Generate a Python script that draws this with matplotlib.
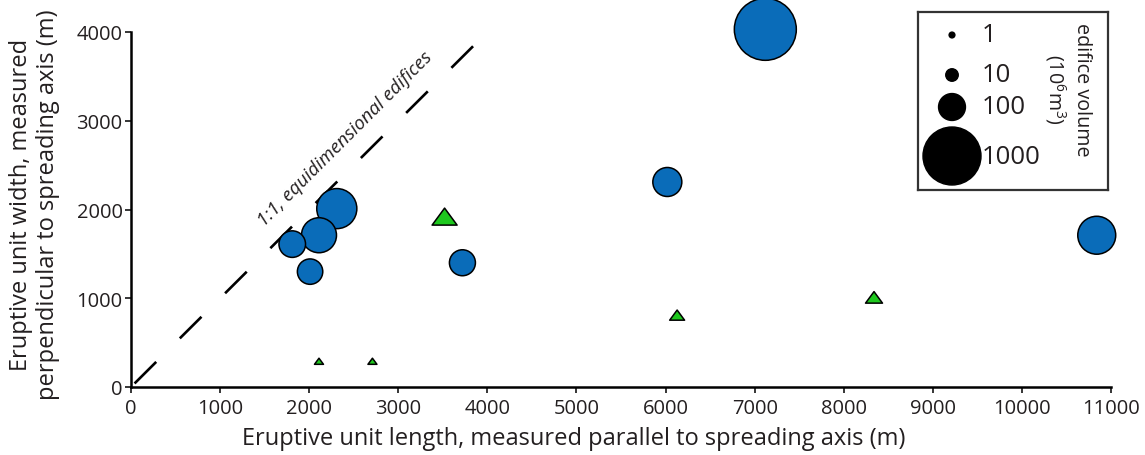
import matplotlib.pyplot as plt
import numpy as np
from matplotlib.path import Path

plt.rcParams['font.family'] = ['Open Sans', 'DejaVu Sans']
plt.rcParams['mathtext.fontset'] = 'custom'
plt.rcParams['mathtext.rm'] = 'Open Sans'
plt.rcParams['lines.scale_dashes'] = False

# circles: edifices (length, width in m; volume in 10^6 m^3)
circ_length = [7120, 10840, 6020, 2310, 2110, 1810, 2010, 3720]
circ_width = [4030, 1710, 2310, 2010, 1710, 1610, 1300, 1400]
circ_volume = [1220, 280, 125, 330, 220, 96, 84, 90]

# triangles
tri_length = [3520, 6130, 8340, 2110, 2710]
tri_width = [1920, 810, 1010, 290, 290]
tri_volume = [80, 17, 25, 3.7, 3.7]

legend_volume = [1, 10, 100, 1000]
legend_labels = ['1', '10', '100', '1000']

x_ticks = np.arange(0, 11001, 1000)
y_ticks = np.arange(0, 4001, 1000)

DPI = 100
ink = '#231f20'
blue = '#0a6cb9'
green = '#1ec81e'


def marker_area(vol):
    # radius in pixels grows with the cube root of volume
    diam_px = 2 * 2.9 * np.cbrt(np.asarray(vol, dtype=float))
    return (diam_px * 72 / DPI) ** 2


tri_marker = Path([(-1, -0.68), (1, -0.68), (0, 0.68), (-1, -0.68)],
                  [Path.MOVETO, Path.LINETO, Path.LINETO, Path.CLOSEPOLY])

fig = plt.figure(figsize=(11.45, 4.56), dpi=DPI)
ax = fig.add_axes([131 / 1145, 68 / 456, 980 / 1145, 355 / 456])

ax.plot([40, 3870], [40, 3870], color='black', lw=1.9,
        dashes=(22, 24), solid_capstyle='butt', zorder=1)
ax.text(2400, 2800, '1:1, equidimensional edifices', rotation=45,
        ha='center', va='center', fontsize=13.5, style='italic', color=ink)

ax.scatter(tri_length, tri_width, s=marker_area(tri_volume), marker=tri_marker,
           facecolor=green, edgecolor='black', linewidth=1.1, zorder=3, clip_on=False)
ax.scatter(circ_length, circ_width, s=marker_area(circ_volume), marker='o',
           facecolor=blue, edgecolor='black', linewidth=1.1, zorder=4, clip_on=False)

ax.set_xlim(0, 11000)
ax.set_ylim(0, 4000)
ax.set_xticks(x_ticks)
ax.set_yticks(y_ticks)
for side in ['top', 'right']:
    ax.spines[side].set_visible(False)
for side in ['left', 'bottom']:
    ax.spines[side].set_linewidth(1.8)
    ax.spines[side].set_color('black')
ax.tick_params(direction='out', length=4, width=1.1, labelsize=14.5,
               labelcolor=ink)
ax.tick_params(axis='x', pad=4)
ax.tick_params(axis='y', pad=2)

ax.set_xlabel('Eruptive unit length, measured parallel to spreading axis (m)',
              fontsize=17, color=ink)
ax.xaxis.set_label_coords(0.452, -0.11)
ax.set_ylabel('Eruptive unit width, measured\nperpendicular to spreading axis (m)',
              fontsize=17, color=ink, linespacing=1.2)
ax.yaxis.set_label_coords(-0.072, 0.515)

# size legend box
lax = fig.add_axes([918 / 1145, 1 - 191 / 456, 190 / 1145, 178 / 456])
lax.set_xlim(0, 190)
lax.set_ylim(178, 0)
lax.set_xticks([])
lax.set_yticks([])
for sp in lax.spines.values():
    sp.set_linewidth(1.6)
    sp.set_color('#333333')
leg_y = [23, 63, 95, 144]
lax.scatter([34] * 4, leg_y, s=marker_area(legend_volume), color='black')
for yy, lab in zip(leg_y, legend_labels):
    lax.text(64, yy, lab, fontsize=18.5, va='center', ha='left', color=ink)
lax.text(164, 77, 'edifice volume', rotation=-90, fontsize=14.2,
         ha='center', va='center', color=ink)
lax.text(137, 77, '(10$^6$m$^3$)', rotation=-90, fontsize=14.2,
         ha='center', va='center', color=ink)

fig.savefig('out.png', dpi=DPI)
